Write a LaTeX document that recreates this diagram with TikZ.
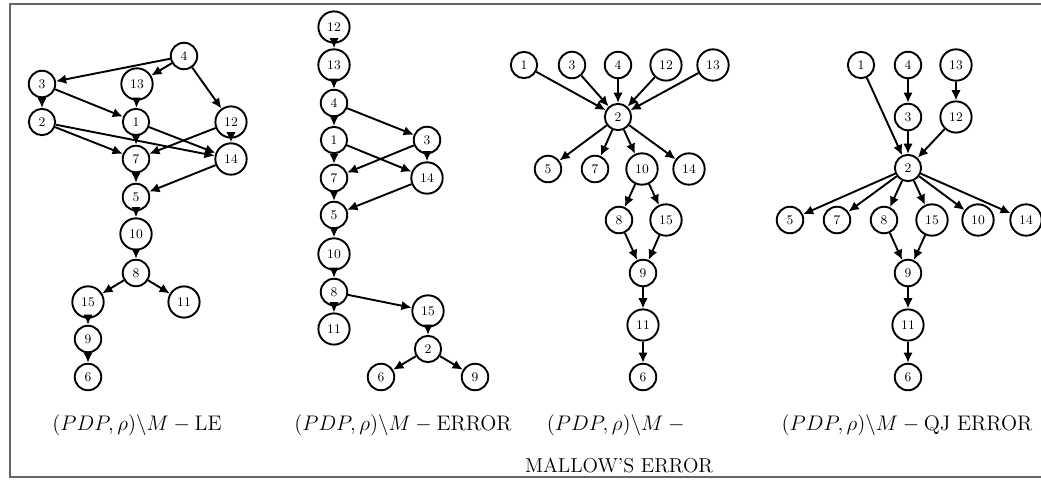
\documentclass[tikz,border=0pt]{standalone}
\usetikzlibrary{arrows.meta}
\begin{document}
\begin{tikzpicture}[x=0.024cm,y=-0.024cm,
  nd/.style={circle,draw,line width=1.3pt,inner sep=3.7pt,font=\small},
  ar/.style={-{Latex[length=7pt,width=6.5pt]},line width=1.3pt},
  captxt/.style={font=\fontsize{13.8}{16}\selectfont},
  frm/.style={draw=black!60,line width=0.7pt}]
\useasboundingbox (0,0) rectangle (1041,479);
\coordinate (fa) at (10,4);
\coordinate (fb) at (1041,4);
\coordinate (fc) at (10,477);
\coordinate (fd) at (1041,477);
\draw[frm] (fb) -- (fa) -- (fc) -- (fd);

% ---------- graph 1 ----------
\begin{scope}
\node[nd] (a4) at (184,56) {4};
\node[nd] (a3) at (42,84) {3};
\node[nd] (a13) at (137,84) {13};
\node[nd] (a2) at (42,122) {2};
\node[nd] (a1) at (136,122) {1};
\node[nd] (a12) at (231,122) {12};
\node[nd] (a7) at (136,159) {7};
\node[nd] (a14) at (231,159) {14};
\node[nd] (a5) at (136,197) {5};
\node[nd] (a10) at (136,234) {10};
\node[nd] (a8) at (136,273) {8};
\node[nd] (a15) at (88,302) {15};
\node[nd] (a11) at (184,302) {11};
\node[nd] (a9) at (88,339) {9};
\node[nd] (a6) at (88,377) {6};
\foreach \s/\t in {a4/a3,a4/a13,a4/a12,a3/a2,a3/a1,a13/a1,a2/a7,a2/a14,a1/a7,a1/a14,a12/a7,a12/a14,a7/a5,a14/a5,a5/a10,a10/a8,a8/a15,a8/a11,a15/a9,a9/a6}
  \draw[ar] (\s) -- (\t);
\node[captxt] (ca) at (137,425) {$(PDP,\rho)\backslash M-\mathrm{LE}$};
\end{scope}

% ---------- graph 2 ----------
\begin{scope}
\node[nd] (b12) at (334,27) {12};
\node[nd] (b13) at (334,65) {13};
\node[nd] (b4) at (334,103) {4};
\node[nd] (b1) at (334,140) {1};
\node[nd] (b3) at (427,140) {3};
\node[nd] (b7) at (334,178) {7};
\node[nd] (b14) at (427,178) {14};
\node[nd] (b5) at (334,215) {5};
\node[nd] (b10) at (334,254) {10};
\node[nd] (b8) at (334,292) {8};
\node[nd] (b11) at (334,329) {11};
\node[nd] (b15) at (428,311) {15};
\node[nd] (b2) at (428,349) {2};
\node[nd] (b6) at (381,377) {6};
\node[nd] (b9) at (475,377) {9};
\foreach \s/\t in {b12/b13,b13/b4,b4/b1,b4/b3,b1/b7,b1/b14,b3/b7,b3/b14,b7/b5,b14/b5,b5/b10,b10/b8,b8/b11,b8/b15,b15/b2,b2/b6,b2/b9}
  \draw[ar] (\s) -- (\t);
\node[captxt] (cb) at (403,425) {$(PDP,\rho)\backslash M-\mathrm{ERROR}$};
\end{scope}

% ---------- graph 3 ----------
\begin{scope}
\node[nd] (c1) at (524,65) {1};
\node[nd] (c3) at (572,65) {3};
\node[nd] (c4) at (618,65) {4};
\node[nd] (c12) at (666,65) {12};
\node[nd] (c13) at (713,65) {13};
\node[nd] (c2) at (618,117) {2};
\node[nd] (c5) at (548,169) {5};
\node[nd] (c7) at (595,169) {7};
\node[nd] (c10) at (642,169) {10};
\node[nd] (c14) at (689,169) {14};
\node[nd] (c8) at (619,220) {8};
\node[nd] (c15) at (666,220) {15};
\node[nd] (c9) at (643,273) {9};
\node[nd] (c11) at (643,325) {11};
\node[nd] (c6) at (643,377) {6};
\foreach \s/\t in {c1/c2,c3/c2,c4/c2,c12/c2,c13/c2,c2/c5,c2/c7,c2/c10,c2/c14,c10/c8,c10/c15,c8/c9,c15/c9,c9/c11,c11/c6}
  \draw[ar] (\s) -- (\t);
\node[captxt] (cc) at (618,425) {$(PDP,\rho)\backslash M-{}$};
\node[captxt] (cc2) at (619,465) {MALLOW'S ERROR};
\end{scope}

% ---------- graph 4 ----------
\begin{scope}
\node[nd] (d1) at (861,65) {1};
\node[nd] (d4) at (908,65) {4};
\node[nd] (d13) at (956,65) {13};
\node[nd] (d3) at (908,117) {3};
\node[nd] (d12) at (956,117) {12};
\node[nd] (d2) at (908,168) {2};
\node[nd] (d5) at (790,220) {5};
\node[nd] (d7) at (837,220) {7};
\node[nd] (d8) at (884,220) {8};
\node[nd] (d15) at (932,220) {15};
\node[nd] (d10) at (978,220) {10};
\node[nd] (d14) at (1026,220) {14};
\node[nd] (d9) at (908,273) {9};
\node[nd] (d11) at (908,325) {11};
\node[nd] (d6) at (908,377) {6};
\foreach \s/\t in {d1/d2,d4/d3,d3/d2,d13/d12,d12/d2,d2/d5,d2/d7,d2/d8,d2/d15,d2/d10,d2/d14,d8/d9,d15/d9,d9/d11,d11/d6}
  \draw[ar] (\s) -- (\t);
\node[captxt] (cd) at (907,425) {$(PDP,\rho)\backslash M-\mathrm{QJ\ ERROR}$};
\end{scope}
\end{tikzpicture}
\end{document}
